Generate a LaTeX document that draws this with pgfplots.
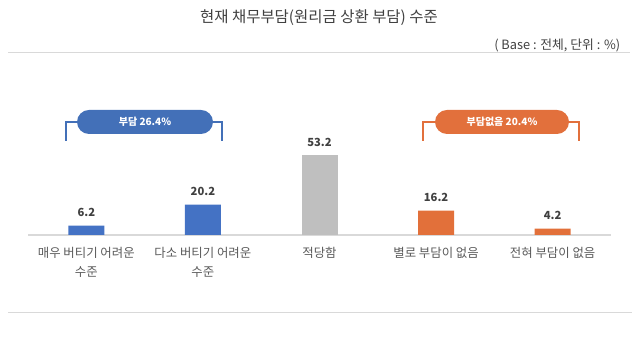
\documentclass[border=0pt]{standalone}
\usepackage{pgfplots}
\pgfplotsset{compat=1.18}
\usepackage{fontspec}
\setmainfont{Noto Sans CJK KR}
\definecolor{barblue}{HTML}{4472C4}
\definecolor{bargray}{HTML}{BFBFBF}
\definecolor{barorange}{HTML}{E2703A}
\definecolor{pillblue}{HTML}{4370B8}
\definecolor{pillorange}{HTML}{E2703C}
\definecolor{labgray}{HTML}{595959}
\definecolor{valgray}{HTML}{404040}
\definecolor{linegray}{HTML}{D9D9D9}
\begin{document}
\begin{tikzpicture}[x=0.75pt,y=0.75pt]
\path[use as bounding box] (0,0) rectangle (640,338);
% title and base
\node[font={\fontsize{11.6}{13}\selectfont}, text=valgray] at (319,320) {현재 채무부담(원리금 상환 부담) 수준};
\node[anchor=east, font={\fontsize{9.6}{11}\selectfont}, text=valgray] at (625,293) {( Base : 전체, 단위 : \%)};
\draw[linegray, line width=0.75pt] (8,285) -- (630,285);
\draw[linegray, line width=0.75pt] (8,25) -- (632,25);
\begin{axis}[
  at={(28*0.75pt,103*0.75pt)}, anchor=south west,
  scale only axis, width=583*0.75pt, height=150*0.75pt,
  xmin=-0.5, xmax=4.5, ymin=0, ymax=100,
  axis x line*=bottom, axis y line=none,
  x axis line style={linegray, line width=1pt, -},
  ybar, bar width=36*0.75pt, bar shift=0pt,
  xtick={0,1,2,3,4}, major tick length=0pt,
  xticklabels={{매우 버티기 어려운\\수준},{다소 버티기 어려운\\수준},{적당함},{별로 부담이 없음},{전혀 부담이 없음}},
  xticklabel style={align=center, anchor=north, font={\fontsize{9.3}{14.25}\selectfont}, text=labgray, yshift=-5.5pt},
  nodes near coords,
  nodes near coords style={anchor=base, yshift=6.75pt, font={\fontsize{8.4}{10}\selectfont\bfseries}, text=valgray, /pgf/number format/assume math mode=true, /pgf/number format/fixed, /pgf/number format/precision=1, /pgf/number format/fixed zerofill},
  every axis plot/.append style={draw=none},
  clip=false,
]
\addplot[fill=barblue] coordinates {(0,6.2) (1,20.2)};
\addplot[fill=bargray] coordinates {(2,53.2)};
\addplot[fill=barorange] coordinates {(3,16.2) (4,4.2)};
\end{axis}
% brackets
\draw[pillblue, line width=0.9pt] (66,197) -- (66,216) -- (222,216) -- (222,197);
\node[fill=pillblue, rounded corners=9pt, minimum width=136*0.75pt, minimum height=24*0.75pt, inner sep=0pt, text=white, font={\fontsize{7.5}{9}\selectfont\bfseries}] at (145,216) {부담 26.4\%};
\draw[pillorange, line width=0.9pt] (423,197) -- (423,216) -- (579,216) -- (579,197);
\node[fill=pillorange, rounded corners=9pt, minimum width=134*0.75pt, minimum height=24*0.75pt, inner sep=0pt, text=white, font={\fontsize{7.5}{9}\selectfont\bfseries}] at (502,216) {부담없음 20.4\%};
\end{tikzpicture}
\end{document}
